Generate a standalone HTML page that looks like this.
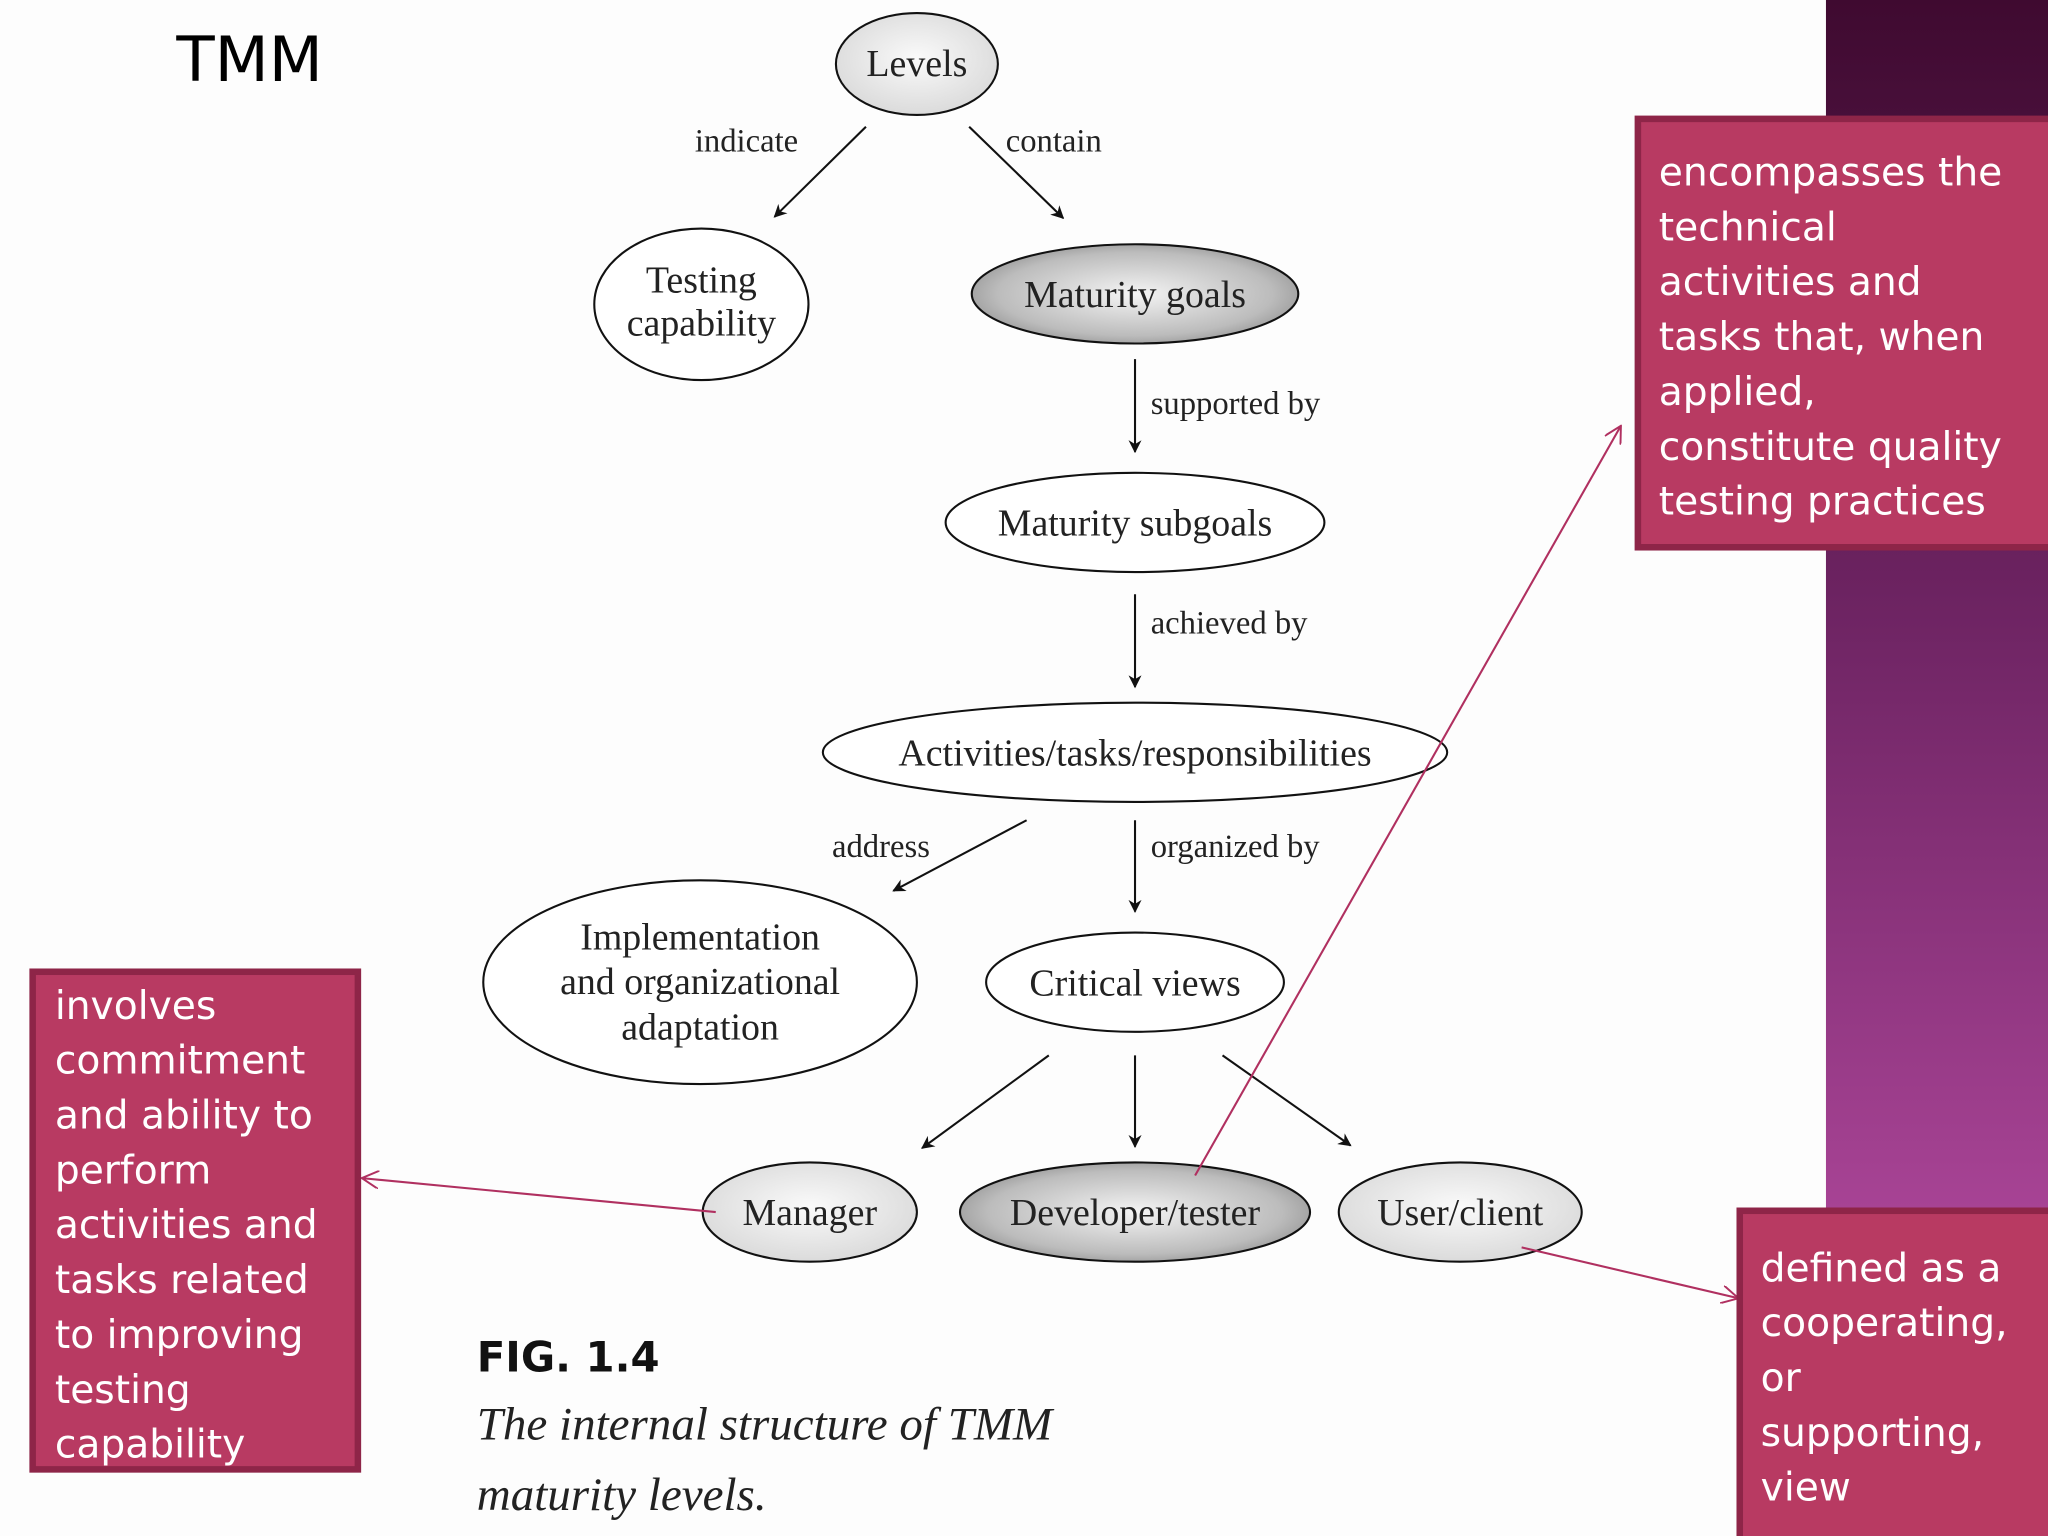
<!DOCTYPE html>
<html><head><meta charset="utf-8"><style>
html,body{margin:0;padding:0;background:#fff;}
svg{display:block;}
.s{font-family:"Liberation Serif",serif;fill:#222;}
.b{font-family:"DejaVu Sans","Liberation Sans",sans-serif;fill:#fff;font-size:30px;}
</style></head><body>
<svg width="2048" height="1536" viewBox="0 0 1568 1176" xmlns="http://www.w3.org/2000/svg">
<defs>
<linearGradient id="pg" x1="0" y1="0" x2="0" y2="1">
<stop offset="0" stop-color="#3f0a30"/><stop offset="0.4" stop-color="#6e2463"/><stop offset="0.8" stop-color="#a94496"/><stop offset="1" stop-color="#9a3c8a"/>
</linearGradient>
<radialGradient id="lg" cx="0.5" cy="0.45" r="0.6"><stop offset="0" stop-color="#fafafa"/><stop offset="1" stop-color="#d8d8d8"/></radialGradient>
<radialGradient id="dg" cx="0.5" cy="0.5" r="0.6"><stop offset="0" stop-color="#f4f4f4"/><stop offset="0.7" stop-color="#bcbcbc"/><stop offset="1" stop-color="#888"/></radialGradient>
<marker id="a" markerWidth="10" markerHeight="10" refX="9" refY="5" orient="auto" markerUnits="userSpaceOnUse"><path d="M0,0 L10,5 L0,10 L3,5z" fill="#111"/></marker>
<marker id="r" markerWidth="14" markerHeight="14" refX="13" refY="7" orient="auto" markerUnits="userSpaceOnUse"><path d="M0,0 L13,7 L0,14" fill="none" stroke="#b03060" stroke-width="1.5"/></marker>
</defs>
<rect width="1568" height="1176" fill="#fdfdfd"/>
<rect x="1398" y="0" width="170" height="1176" fill="url(#pg)"/>
<text x="135" y="62" font-family="DejaVu Sans,Liberation Sans,sans-serif" font-size="48" fill="#000">TMM</text>
<g stroke="#111" stroke-width="1.6">
<ellipse cx="702" cy="49" rx="62" ry="39" fill="url(#lg)"/>
<ellipse cx="537" cy="233" rx="82" ry="58" fill="#fff"/>
<ellipse cx="869" cy="225" rx="125" ry="38" fill="url(#dg)"/>
<ellipse cx="869" cy="400" rx="145" ry="38" fill="#fff"/>
<ellipse cx="869" cy="576" rx="239" ry="38" fill="#fff"/>
<ellipse cx="536" cy="752" rx="166" ry="78" fill="#fff"/>
<ellipse cx="869" cy="752" rx="114" ry="38" fill="#fff"/>
<ellipse cx="620" cy="928" rx="82" ry="38" fill="url(#lg)"/>
<ellipse cx="869" cy="928" rx="134" ry="38" fill="url(#dg)"/>
<ellipse cx="1118" cy="928" rx="93" ry="38" fill="url(#lg)"/>
<g fill="none" marker-end="url(#a)">
<line x1="663" y1="97" x2="593" y2="166"/>
<line x1="742" y1="97" x2="814" y2="167"/>
<line x1="869" y1="275" x2="869" y2="346"/>
<line x1="869" y1="455" x2="869" y2="526"/>
<line x1="786" y1="628" x2="684" y2="682"/>
<line x1="869" y1="628" x2="869" y2="698"/>
<line x1="803" y1="808" x2="706" y2="879"/>
<line x1="869" y1="808" x2="869" y2="878"/>
<line x1="936" y1="808" x2="1034" y2="877"/>
</g></g>
<g class="s" font-size="29" text-anchor="middle">
<text x="702" y="58">Levels</text>
<text x="537" y="224">Testing</text><text x="537" y="257">capability</text>
<text x="869" y="235">Maturity goals</text>
<text x="869" y="410">Maturity subgoals</text>
<text x="869" y="586">Activities/tasks/responsibilities</text>
<text x="536" y="727">Implementation</text><text x="536" y="761">and organizational</text><text x="536" y="796">adaptation</text>
<text x="869" y="762">Critical views</text>
<text x="620" y="938">Manager</text>
<text x="869" y="938">Developer/tester</text>
<text x="1118" y="938">User/client</text>
</g>
<g class="s" font-size="25">
<text x="532" y="116">indicate</text>
<text x="770" y="116">contain</text>
<text x="881" y="317">supported by</text>
<text x="881" y="485">achieved by</text>
<text x="637" y="656">address</text>
<text x="881" y="656">organized by</text>
</g>
<text x="365" y="1050" font-family="DejaVu Sans,sans-serif" font-weight="bold" font-size="32" fill="#111">FIG. 1.4</text>
<text x="365" y="1102" class="s" font-style="italic" font-size="36">The internal structure of TMM</text>
<text x="365" y="1156" class="s" font-style="italic" font-size="36">maturity levels.</text>
<g stroke="#b03060" stroke-width="1.6" fill="none" marker-end="url(#r)">
<line x1="915" y1="900" x2="1241" y2="326"/>
<line x1="548" y1="928" x2="277" y2="902"/>
<line x1="1165" y1="955" x2="1331" y2="994"/>
</g>
<g fill="#b83a62" stroke="#8e2548" stroke-width="5">
<rect x="1254" y="91" width="320" height="328"/>
<rect x="25" y="744" width="249" height="381"/>
<rect x="1332" y="927" width="240" height="260"/>
</g>
<g class="b">
<text x="1270" y="142">encompasses the</text><text x="1270" y="184">technical</text><text x="1270" y="226">activities and</text><text x="1270" y="268">tasks that, when</text><text x="1270" y="310">applied,</text><text x="1270" y="352">constitute quality</text><text x="1270" y="394">testing practices</text>
<text x="42" y="780">involves</text><text x="42" y="822">commitment</text><text x="42" y="864">and ability to</text><text x="42" y="906">perform</text><text x="42" y="948">activities and</text><text x="42" y="990">tasks related</text><text x="42" y="1032">to improving</text><text x="42" y="1074">testing</text><text x="42" y="1116">capability</text>
<text x="1348" y="981">defined as a</text><text x="1348" y="1023">cooperating,</text><text x="1348" y="1065">or</text><text x="1348" y="1107">supporting,</text><text x="1348" y="1149">view</text>
</g>
</svg>
</body></html>
